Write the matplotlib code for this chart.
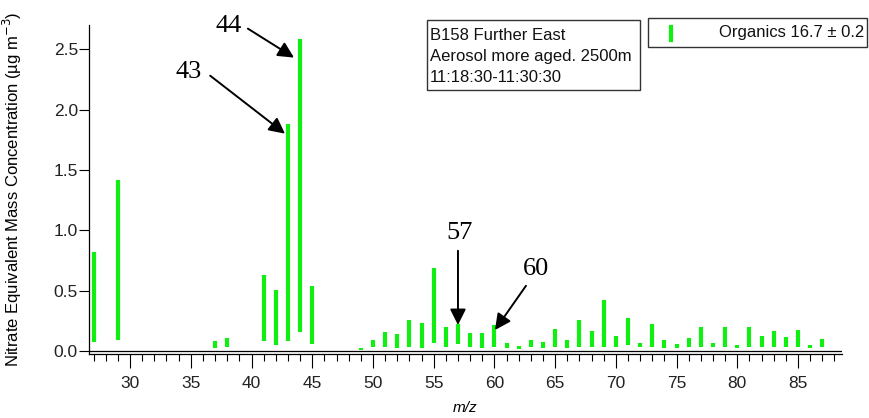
import matplotlib
matplotlib.use("Agg")
import matplotlib.pyplot as plt
from matplotlib.patches import Rectangle
from matplotlib.lines import Line2D

plt.rcParams['font.family'] = ['Liberation Sans', 'DejaVu Sans']

# m/z channels and the bar extents (low, high) in ug m-3
mz = [27, 29, 37, 38, 41, 42, 43, 44, 45, 49, 50, 51, 52, 53, 54, 55, 56, 57, 58, 59,
      60, 61, 62, 63, 64, 65, 66, 67, 68, 69, 70, 71, 72, 73, 74, 75, 76, 77, 78, 79,
      80, 81, 82, 83, 84, 85, 86, 87]
high = [0.82, 1.42, 0.083, 0.105, 0.63, 0.505, 1.877, 2.58, 0.54, 0.025, 0.09, 0.155, 0.138, 0.257, 0.23, 0.687, 0.2, 0.22, 0.146, 0.146,
        0.215, 0.069, 0.041, 0.091, 0.077, 0.18, 0.091, 0.257, 0.168, 0.42, 0.124, 0.27, 0.064, 0.224, 0.091, 0.058, 0.105, 0.2, 0.069, 0.2,
        0.05, 0.2, 0.127, 0.168, 0.118, 0.174, 0.05, 0.097]
low = [0.072, 0.09, 0.027, 0.036, 0.083, 0.05, 0.083, 0.16, 0.055, 0.01, 0.036, 0.036, 0.027, 0.036, 0.027, 0.064, 0.036, 0.06, 0.036, 0.027,
       0.036, 0.022, 0.016, 0.03, 0.027, 0.03, 0.022, 0.036, 0.036, 0.036, 0.036, 0.05, 0.03, 0.03, 0.027, 0.027, 0.036, 0.036, 0.03, 0.03,
       0.022, 0.03, 0.03, 0.036, 0.03, 0.036, 0.022, 0.03]

x_major = [30, 35, 40, 45, 50, 55, 60, 65, 70, 75, 80, 85]
x_minor = list(range(27, 89))
y_ticks = [0.0, 0.5, 1.0, 1.5, 2.0, 2.5]
y_ticklabels = ["0.0", "0.5", "1.0", "1.5", "2.0", "2.5"]

info_lines = ["B158 Further East", "Aerosol more aged. 2500m", "11:18:30-11:30:30"]
legend_label = "Organics 16.7 \u00b1 0.2"
green = "#11ee11"

W, H = 869, 418
fig = plt.figure(figsize=(W / 100, H / 100), dpi=100)
ax = fig.add_axes([89 / W, 64 / H, (842 - 89) / W, 329 / H])

ax.vlines(mz, low, high, colors=green, linewidth=3.0)
ax.axhline(0, color="black", linewidth=0.9)

ax.set_xlim(26.62, 88.62)
ax.set_ylim(-0.025, 2.7)

ax.set_xticks(x_major)
ax.set_xticks(x_minor, minor=True)
ax.set_yticks(y_ticks)
ax.set_yticklabels(y_ticklabels)

for s in ["top", "right"]:
    ax.spines[s].set_visible(False)
for s in ["left", "bottom"]:
    ax.spines[s].set_linewidth(0.9)

ax.tick_params(axis="x", which="major", length=10, width=0.8, pad=6,
               labelsize=12.5, labelcolor="#222222", direction="out")
ax.tick_params(axis="x", which="minor", length=5, width=0.8, direction="out")
ax.tick_params(axis="y", which="major", length=7, width=0.8, pad=1,
               labelsize=12.5, labelcolor="#222222", direction="out")

ax.set_xlabel("m/z", fontsize=11, style="italic", va="top")
ax.xaxis.set_label_coords(0.5, -0.143)
ax.set_ylabel("Nitrate Equivalent Mass Concentration (\u00b5g m$^{-3}$)", fontsize=12)
ax.yaxis.set_label_coords(-0.086, 0.5)

# annotations
ann = [("44", (43.5, 2.43), (38.1, 2.69), (39.7, 2.67)),
       ("43", (42.76, 1.80), (34.8, 2.31), (36.6, 2.28)),
       ("57", (57.0, 0.215), (57.17, 0.975), (57.0, 0.83)),
       ("60", (60.05, 0.174), (63.45, 0.677), (62.6, 0.54))]
for label, tip, tpos, start in ann:
    ax.text(tpos[0], tpos[1], label, fontsize=19, family=["Liberation Serif", "DejaVu Serif"],
            ha="center", va="center", clip_on=False)
    ax.annotate("", xy=tip, xytext=start, annotation_clip=False,
                arrowprops=dict(arrowstyle="-|>", color="black", lw=1.4,
                                mutation_scale=24, shrinkA=0, shrinkB=0))

# info box
fig.patches.append(Rectangle((427 / W, 1 - 90 / H), (640 - 427) / W, 70 / H,
                             transform=fig.transFigure, facecolor="white",
                             edgecolor="#333333", linewidth=1.0))
for i, t in enumerate(info_lines):
    fig.text(430 / W, 1 - (35 + 21 * i) / H, t, fontsize=12, ha="left", va="center", color="#111111")

# legend box
fig.patches.append(Rectangle((648 / W, 1 - 47 / H), (867 - 648) / W, 29 / H,
                             transform=fig.transFigure, facecolor="white",
                             edgecolor="#333333", linewidth=1.0))
fig.lines.append(Line2D([671 / W, 671 / W], [1 - 40 / H, 1 - 27 / H], transform=fig.transFigure,
                        color=green, linewidth=3.0))
fig.text(864 / W, 1 - 33 / H, legend_label, fontsize=12, ha="right", va="center", color="#111111")

fig.savefig("out.png", dpi=100)
